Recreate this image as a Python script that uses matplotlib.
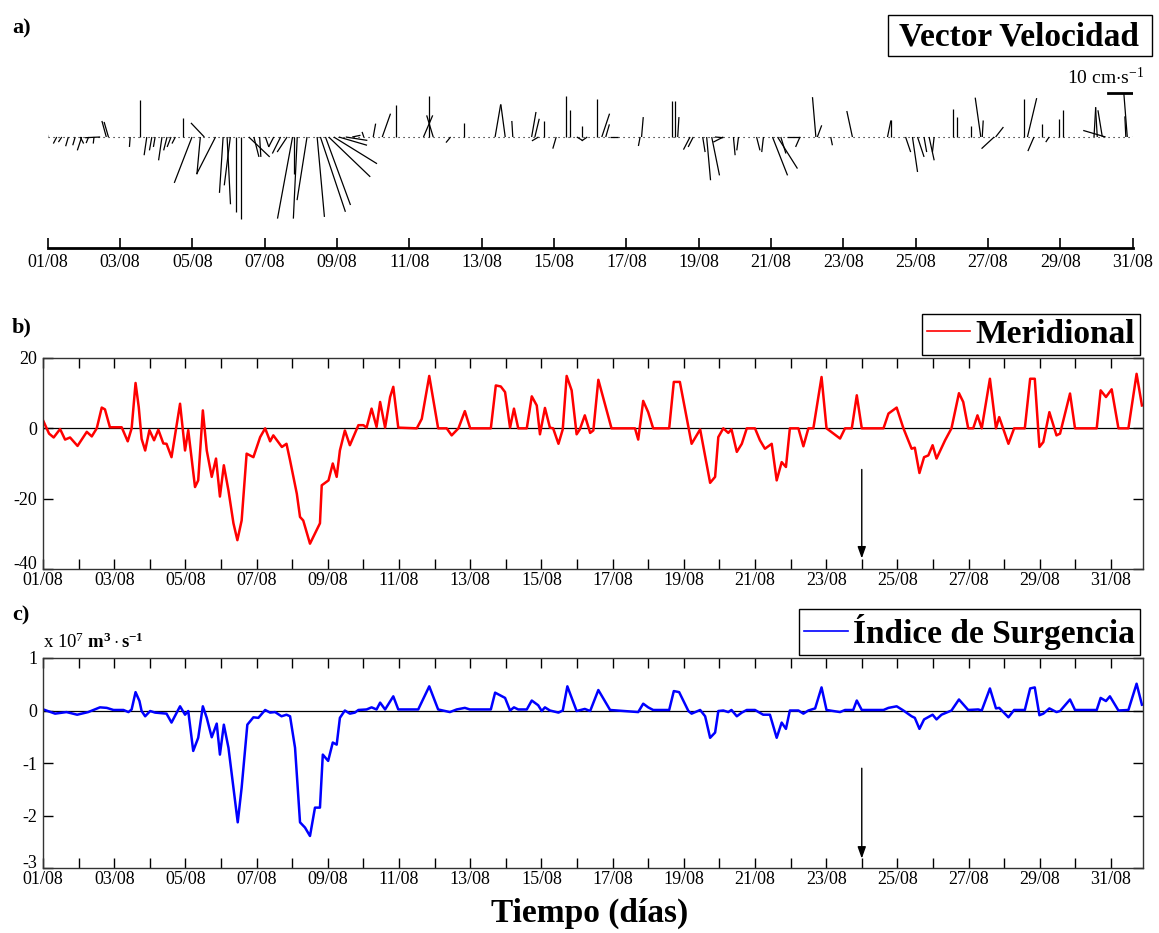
import numpy as np
import matplotlib
matplotlib.use('Agg')
import matplotlib.pyplot as plt
from matplotlib.collections import LineCollection
from matplotlib.lines import Line2D
from matplotlib.patches import Rectangle

plt.rcParams['font.family'] = ['Liberation Serif', 'DejaVu Serif']
plt.rcParams['mathtext.fontset'] = 'custom'
plt.rcParams['mathtext.rm'] = 'Liberation Serif'
plt.rcParams['mathtext.it'] = 'Liberation Serif:italic'
plt.rcParams['mathtext.bf'] = 'Liberation Serif:bold'
plt.rcParams['axes.unicode_minus'] = False

# days counted from 01/08 00:00
date_ticks = list(range(0, 31, 2))
date_labels = ['%02d/08' % (d + 1) for d in date_ticks]

# a) stick plot: time, zonal (u) and meridional (v) components, cm/s
stick_days = [0.00, 0.25, 0.39, 0.57, 0.76, 0.90, 0.94, 1.13, 1.28, 1.45, 1.62, 1.68,
              2.28, 2.54, 2.74, 2.88, 2.97, 3.16, 3.30, 3.41, 3.53, 3.74, 3.99, 4.22,
              4.33, 4.64, 4.85, 4.96, 5.05, 5.22, 5.35, 5.56, 5.70, 5.86, 6.02, 6.25,
              6.44, 6.62, 6.77, 6.81, 6.90, 7.17, 7.45, 7.54, 7.68, 7.77, 7.91, 8.05,
              8.24, 8.42, 8.74, 9.00, 9.25, 9.62, 10.39, 10.55, 10.66, 11.14, 11.51, 12.37,
              12.65, 12.86, 13.38, 13.47, 13.57, 13.71, 14.06, 14.32, 14.44, 14.63, 14.78, 14.92,
              15.18, 15.32, 15.43, 15.55, 16.38, 16.42, 17.25, 17.35, 17.42, 17.76, 17.85, 18.11,
              18.22, 18.36, 18.45, 18.68, 18.96, 19.10, 19.60, 19.79, 20.04, 20.18, 20.27, 20.45,
              20.80, 21.24, 21.28, 21.65, 22.25, 23.22, 23.31, 23.72, 23.91, 24.05, 24.23, 24.37,
              24.51, 25.03, 25.15, 25.52, 25.80, 25.84, 26.17, 26.21, 27.00, 27.09, 27.27, 27.50,
              27.69, 27.96, 28.06, 28.93, 29.02, 29.16, 29.25, 29.81, 29.85, 30.02]
stick_u = [-0.3, -1.4, -1.4, -1.1, -1.0, 1.4, -1.8, -1.0, -0.3, -6.2, -1.8, -1.8,
           -0.3, 0.0, -1.1, -1.0, -0.7, -1.4, -1.4, -1.6, -1.4, 0.0, -7.3, -1.4,
           -5.5, -7.8, -1.5, 1.4, -2.5, 0.0, 0.0, 8.6, 2.1, 0.5, 1.4, -2.1,
           -3.4, -4.1, -6.2, 0.0, -1.6, -4.1, 3.0, 10.3, 10.3, 17.1, 17.8, 11.6,
           8.9, 3.4, -0.7, 1.0, 3.4, 0.0, 3.8, 0.0, -2.7, -1.9, 0.0, 2.3,
           -1.8, -0.4, 1.8, 1.8, -2.7, 0.0, -1.4, 0.0, 0.0, 2.3, 0.0, -2.3,
           0.0, 3.2, 1.5, 3.4, -0.7, 0.7, 0.0, 0.0, 0.5, -2.7, -2.1, 1.0,
           1.6, 3.2, 3.4, -4.1, 0.7, -0.7, 1.4, -0.7, 6.2, 8.2, 2.1, 5.2,
           -1.8, -1.4, 1.8, 0.7, -2.3, 1.4, 0.0, 2.1, 2.1, 2.7, 1.1, 2.1,
           -0.7, 0.0, 0.0, 0.0, -2.3, 0.4, -5.2, 3.2, 0.0, 3.8, -2.5, 0.0,
           -1.4, 0.0, 0.0, 0.7, -0.7, -1.8, -9.2, -0.4, -1.4, 2.6]
stick_v = [2.5, -2.7, -2.1, -3.8, -3.4, -2.7, -5.5, -2.5, -2.7, -0.3, 6.6, 6.2,
           -4.1, 15.1, -7.5, -5.5, -4.1, -9.6, -5.5, -4.1, -2.7, 7.9, -18.9, -15.3,
           5.8, -15.3, -23.0, -27.7, -19.9, -30.8, -33.6, -8.2, -8.2, -8.2, -4.1, -4.1,
           -6.8, -6.2, -33.6, -15.1, -33.6, -26.0, -32.9, -30.8, -28.0, -16.4, -11.0, -3.4,
           -1.4, 0.7, 2.1, 5.5, 9.6, 13.0, 8.9, 16.7, 8.9, -2.3, 5.8, 13.4,
           13.4, 6.6, 10.3, 7.5, -1.6, 6.6, -4.8, 16.7, 11.2, -1.4, 4.4, -1.6,
           15.5, 9.6, 5.2, 0.0, -3.7, 8.2, 14.7, 14.7, 8.2, -5.2, -4.1, -6.2,
           -17.8, -15.8, -0.3, -2.1, -7.5, -5.5, -5.5, -6.2, -15.8, -13.0, -6.8, 0.0,
           -4.1, 16.4, 4.8, -3.4, 10.7, 6.8, 6.8, -6.2, -14.4, -8.2, -6.2, -9.6,
           -6.2, 11.6, 8.2, 4.4, 16.2, 6.8, -4.8, 4.1, 15.5, 16.0, -5.8, 5.5,
           -2.1, 7.5, 11.2, 12.3, 12.1, 11.0, 2.7, 8.5, 17.8, 8.2]
scale_speed = 10  # cm/s reference bar

# b) meridional wind component
merid_days = [0.00, 0.17, 0.30, 0.48, 0.62, 0.76, 0.97, 1.23, 1.37, 1.51, 1.65, 1.74,
              1.88, 2.21, 2.38, 2.49, 2.60, 2.69, 2.77, 2.87, 2.99, 3.12, 3.24, 3.38,
              3.47, 3.61, 3.85, 3.99, 4.08, 4.27, 4.36, 4.49, 4.60, 4.74, 4.86, 4.97,
              5.08, 5.21, 5.35, 5.46, 5.58, 5.72, 5.91, 6.10, 6.24, 6.38, 6.47, 6.71,
              6.84, 6.94, 7.13, 7.22, 7.31, 7.50, 7.78, 7.83, 8.02, 8.14, 8.25, 8.34,
              8.48, 8.62, 8.86, 9.00, 9.09, 9.23, 9.37, 9.47, 9.61, 9.75, 9.84, 9.98,
              10.50, 10.64, 10.85, 11.10, 11.34, 11.48, 11.67, 11.85, 12.00, 12.58, 12.72, 12.86,
              12.98, 13.12, 13.23, 13.35, 13.59, 13.73, 13.87, 13.96, 14.10, 14.24, 14.33, 14.48,
              14.60, 14.71, 14.85, 14.99, 15.08, 15.22, 15.37, 15.46, 15.60, 15.97, 16.63, 16.72,
              16.86, 17.00, 17.14, 17.59, 17.72, 17.89, 18.22, 18.46, 18.74, 18.88, 18.97, 19.11,
              19.25, 19.34, 19.49, 19.63, 19.77, 20.00, 20.14, 20.28, 20.47, 20.61, 20.75, 20.87,
              20.98, 21.22, 21.36, 21.50, 21.64, 21.87, 22.01, 22.39, 22.53, 22.72, 22.86, 23.00,
              23.61, 23.75, 23.98, 24.17, 24.40, 24.49, 24.62, 24.75, 24.87, 24.99, 25.10, 25.34,
              25.52, 25.73, 25.85, 25.99, 26.13, 26.25, 26.37, 26.60, 26.77, 26.86, 27.12, 27.28,
              27.58, 27.73, 27.86, 27.99, 28.10, 28.27, 28.47, 28.57, 28.85, 28.99, 29.60, 29.71,
              29.86, 30.02, 30.21, 30.49, 30.72, 30.87]
merid = [2.3, -1.5, -2.6, -0.2, -3.2, -2.6, -5.0, -1.0, -2.3, 0.0, 5.9, 5.4,
         0.3, 0.3, -3.7, 0.0, 12.9, 6.0, -3.0, -6.3, -0.5, -3.4, -0.4, -4.3,
         -4.4, -8.2, 7.0, -6.3, -0.5, -16.7, -14.8, 5.1, -6.3, -13.8, -8.6, -19.4,
         -10.5, -17.7, -27.0, -31.8, -26.2, -7.2, -8.2, -2.5, 0.0, -3.7, -2.0, -5.3,
         -4.4, -9.1, -18.6, -25.2, -26.2, -32.8, -27.0, -16.2, -14.8, -10.0, -13.8, -6.3,
         -0.6, -4.8, 0.9, 0.9, 0.2, 5.6, 0.4, 7.5, 0.2, 8.9, 11.8, 0.2,
         0.0, 2.7, 14.9, 0.0, 0.0, -2.0, 0.0, 4.9, 0.0, 0.0, 12.2, 11.9,
         10.3, 0.2, 5.6, 0.0, 0.0, 9.1, 6.5, -1.7, 5.8, 0.2, 0.0, -4.4,
         -0.3, 14.9, 10.8, -1.7, -0.3, 3.7, -1.3, -0.6, 13.8, 0.0, 0.0, -3.2,
         7.8, 4.6, 0.0, 0.0, 13.2, 13.2, -4.4, -0.3, -15.5, -13.8, -2.5, 0.0,
         -1.3, -0.3, -6.7, -4.4, 0.0, 0.0, -3.4, -5.8, -4.4, -14.8, -9.6, -11.0,
         0.0, 0.0, -5.1, 0.0, 0.0, 14.6, 0.0, -2.9, 0.0, 0.0, 9.4, 0.0,
         0.0, 4.2, 5.9, 0.0, -5.8, -5.5, -12.7, -8.2, -7.7, -4.8, -8.6, -3.4,
         0.0, 10.0, 7.5, 0.0, 0.0, 3.7, 0.0, 14.1, 0.0, 3.2, -4.4, 0.0,
         0.0, 14.1, 14.1, -5.3, -3.9, 4.6, -2.0, -1.5, 9.9, 0.0, 0.0, 10.8,
         8.9, 11.1, 0.0, 0.0, 15.5, 6.5]

# c) upwelling index, x 10^7 m3/s
surg_days = [0.01, 0.34, 0.66, 0.96, 1.27, 1.60, 1.79, 1.98, 2.26, 2.40, 2.49, 2.60,
             2.71, 2.77, 2.87, 3.01, 3.15, 3.47, 3.61, 3.85, 3.99, 4.08, 4.22, 4.36,
             4.49, 4.60, 4.74, 4.88, 4.97, 5.08, 5.21, 5.35, 5.47, 5.58, 5.74, 5.91,
             6.05, 6.24, 6.38, 6.52, 6.70, 6.84, 6.94, 7.08, 7.22, 7.36, 7.50, 7.64,
             7.78, 7.86, 8.01, 8.14, 8.25, 8.34, 8.48, 8.62, 8.76, 8.86, 9.09, 9.23,
             9.37, 9.47, 9.61, 9.84, 9.98, 10.54, 10.85, 11.10, 11.43, 11.62, 11.85, 11.99,
             12.58, 12.70, 12.98, 13.12, 13.23, 13.35, 13.59, 13.73, 13.91, 14.01, 14.10, 14.24,
             14.48, 14.60, 14.73, 14.99, 15.22, 15.37, 15.60, 15.93, 16.72, 16.86, 17.00, 17.14,
             17.59, 17.72, 17.87, 18.13, 18.22, 18.46, 18.60, 18.74, 18.88, 18.97, 19.11, 19.25,
             19.34, 19.49, 19.63, 19.77, 20.00, 20.23, 20.42, 20.61, 20.75, 20.87, 20.98, 21.22,
             21.36, 21.50, 21.69, 21.87, 22.01, 22.39, 22.53, 22.76, 22.86, 23.00, 23.61, 23.75,
             23.98, 24.17, 24.40, 24.49, 24.62, 24.75, 24.99, 25.10, 25.24, 25.52, 25.73, 25.99,
             26.27, 26.37, 26.60, 26.77, 26.86, 27.12, 27.28, 27.58, 27.73, 27.86, 27.99, 28.10,
             28.27, 28.47, 28.57, 28.85, 28.99, 29.60, 29.71, 29.86, 29.97, 30.21, 30.49, 30.72,
             30.87]
surg = [0.02, -0.06, -0.03, -0.08, -0.03, 0.06, 0.05, 0.01, 0.01, -0.03, 0.02, 0.35,
        0.18, -0.01, -0.11, -0.01, -0.04, -0.06, -0.23, 0.08, -0.08, -0.01, -0.77, -0.52,
        0.08, -0.14, -0.51, -0.25, -0.84, -0.27, -0.71, -1.47, -2.13, -1.47, -0.27, -0.13,
        -0.14, 0.01, -0.04, -0.03, -0.11, -0.08, -0.11, -0.71, -2.13, -2.23, -2.39, -1.85,
        -1.85, -0.84, -0.96, -0.61, -0.65, -0.14, 0.00, -0.06, -0.04, 0.01, 0.02, 0.06,
        0.02, 0.15, 0.02, 0.27, 0.02, 0.02, 0.46, 0.02, -0.03, 0.02, 0.05, 0.02,
        0.02, 0.34, 0.24, 0.00, 0.06, 0.02, 0.02, 0.19, 0.10, -0.01, 0.06, 0.00,
        -0.04, 0.00, 0.46, -0.01, 0.03, -0.01, 0.39, 0.01, -0.03, 0.13, 0.06, 0.01,
        0.01, 0.37, 0.35, -0.01, -0.06, 0.01, -0.11, -0.52, -0.42, -0.01, 0.00, -0.03,
        0.01, -0.11, -0.04, 0.01, 0.01, -0.08, -0.08, -0.52, -0.23, -0.35, 0.00, 0.00,
        -0.06, 0.00, 0.04, 0.44, 0.01, -0.03, 0.01, 0.01, 0.19, 0.01, 0.01, 0.05,
        0.08, 0.00, -0.11, -0.14, -0.35, -0.17, -0.08, -0.17, -0.08, 0.00, 0.21, 0.01,
        0.02, 0.00, 0.42, 0.04, 0.05, -0.13, 0.01, 0.01, 0.42, 0.44, -0.09, -0.06,
        0.04, -0.03, -0.01, 0.21, 0.01, 0.01, 0.24, 0.18, 0.27, 0.00, 0.01, 0.51,
        0.11]

marker_day = 23.0  # arrow 24/08

W, H = 1159, 933
fig = plt.figure(figsize=(W / 100, H / 100), dpi=100)


def px_axes(left, top, right, bottom):
    return fig.add_axes([left / W, 1 - bottom / H, (right - left) / W, (bottom - top) / H])


ax_a = px_axes(47.7, 60, 1132.7, 248)
ax_b = px_axes(43, 358, 1143, 569)
ax_c = px_axes(43, 658, 1143, 868)

# ---- a) stick plot
ylo, yhi = -45.7, 31.7
ax_a.set_xlim(0, 30)
ax_a.set_ylim(ylo, yhi)
pos = ax_a.get_position()
px_day = pos.width * W / 30.0
px_unit = pos.height * H / (yhi - ylo)
k = px_unit / px_day  # days per cm/s so that sticks keep their true angle
segs = [[(t, 0), (t + u * k, v)] for t, u, v in zip(stick_days, stick_u, stick_v)]
ax_a.add_collection(LineCollection(segs, colors='black', linewidths=0.9))
ax_a.plot([0, 30], [0, 0], color='black', lw=0.8, dashes=(1, 3.5))
ax_a.plot([30 - scale_speed * k, 30], [18.2, 18.2], color='black', lw=2)
ax_a.text(30.3, 20.0, r'10 cm$\cdot$s$^{-1}$', ha='right', va='bottom', fontsize=14)
for s in ['left', 'right', 'top']:
    ax_a.spines[s].set_visible(False)
ax_a.spines['bottom'].set_linewidth(2)
ax_a.spines['bottom'].set_bounds(0, 30)
ax_a.set_yticks([])
ax_a.set_xticks(date_ticks)
ax_a.set_xticklabels(date_labels)
ax_a.tick_params(axis='x', direction='in', length=7.5, width=1.2, pad=4, labelsize=13)
ax_a.patch.set_alpha(0)

fig.add_artist(Rectangle((888 / W, 1 - 56 / H), 264 / W, 41 / H, transform=fig.transFigure,
                         fill=False, ec='black', lw=1))
fig.text(1019 / W, 1 - 37 / H, 'Vector Velocidad', ha='center', va='center',
         fontsize=24, fontweight='bold')

# ---- b) and c) time series
def style_series(ax, yticks, ylabels):
    ax.set_xlim(0, 30.9)
    ax.set_xticks(date_ticks)
    ax.set_xticklabels(date_labels)
    ax.set_xticks(range(1, 31, 2), minor=True)
    ax.set_yticks(yticks)
    ax.set_yticklabels(ylabels)
    ax.set_ylim(yticks[0], yticks[-1])
    ax.tick_params(which='both', direction='in', top=True, right=True,
                   length=7, width=1, labelsize=13)
    ax.tick_params(axis='x', pad=2)
    ax.tick_params(axis='y', pad=4)
    ax.get_yticklabels()[0].set_va('baseline')
    for s in ax.spines.values():
        s.set_linewidth(1)
        s.set_color('#333333')
    ax.axhline(0, color='black', lw=0.9, zorder=1)


leg_kw = dict(loc='lower right', bbox_to_anchor=(1.0, 1.0), borderaxespad=0.1,
              fancybox=False, edgecolor='black', framealpha=1,
              handlelength=1.3, handletextpad=0.15, borderpad=0.15,
              prop={'family': 'Liberation Serif', 'weight': 'bold', 'size': 24})

ax_b.plot(merid_days, merid, color='red', lw=1.8, zorder=2)
style_series(ax_b, [-40, -20, 0, 20], ['-40', '-20', '0', '20'])
ax_b.legend(handles=[Line2D([], [], color='red', lw=1.2)], labels=['Meridional'], **leg_kw)
ax_b.annotate('', xy=(marker_day, -37), xytext=(marker_day, -11.7),
              arrowprops=dict(arrowstyle='-|>,head_length=0.7,head_width=0.25',
                              color='black', lw=1, shrinkA=0, shrinkB=0))

ax_c.plot(surg_days, surg, color='blue', lw=1.8, zorder=2)
style_series(ax_c, [-3, -2, -1, 0, 1], ['-3', '-2', '-1', '0', '1'])
ax_c.legend(handles=[Line2D([], [], color='blue', lw=1.2)], labels=['Índice de Surgencia'], **leg_kw)
ax_c.annotate('', xy=(marker_day, -2.82), xytext=(marker_day, -1.1),
              arrowprops=dict(arrowstyle='-|>,head_length=0.7,head_width=0.25',
                              color='black', lw=1, shrinkA=0, shrinkB=0))
ax_c.text(0, 1.03, r'x 10$^7$ $\mathbf{m^3\cdot s^{-1}}$', transform=ax_c.transAxes,
          ha='left', va='bottom', fontsize=13.5)

for lab, y in [('a)', 28), ('b)', 327), ('c)', 615)]:
    fig.text(12 / W, 1 - y / H, lab, fontsize=16, fontweight='bold', va='center')

fig.text(590 / W, 1 - 913 / H, 'Tiempo (días)', ha='center', va='center',
         fontsize=24, fontweight='bold')

fig.savefig('out.png', dpi=100, facecolor='white')
